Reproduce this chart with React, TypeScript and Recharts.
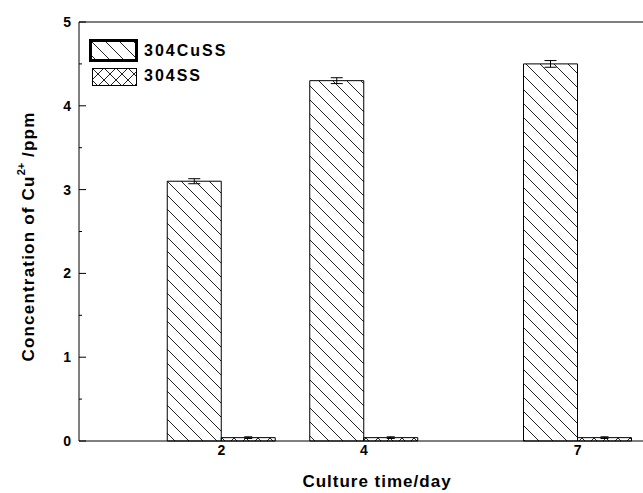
import React from "react";
import { BarChart, Bar, XAxis, YAxis, ErrorBar, ReferenceLine, Legend } from "recharts";

const days = [2, 4, 7];
const cuSS = [3.1, 4.3, 4.5];
const cuSSErr = [0.03, 0.035, 0.04];
const plainSS = [0.04, 0.04, 0.04];
const plainSSErr = [0.01, 0.01, 0.01];
const yTicks = [0, 0.5, 1, 1.5, 2, 2.5, 3, 3.5, 4, 4.5, 5];
const xTicks = [2, 4, 7];
const seriesNames = ["304CuSS", "304SS"];

const data = days.map((d, i) => ({
  day: d,
  cu: cuSS[i],
  cuErr: cuSSErr[i],
  ss: plainSS[i],
  ssErr: plainSSErr[i],
}));

const FONT = '"Liberation Sans", Arial, sans-serif';

function Patterns({ prefix }: { prefix: string }) {
  return (
    <defs>
      <pattern id={`${prefix}-diag`} patternUnits="userSpaceOnUse" width={14} height={14}>
        <path d="M0,0 L14,14 M-2,12 L2,16 M12,-2 L16,2" stroke="#222" strokeWidth={1} />
      </pattern>
      <pattern id={`${prefix}-cross`} patternUnits="userSpaceOnUse" width={12} height={12}>
        <path
          d="M0,0 L12,12 M-2,10 L2,14 M10,-2 L14,2 M12,0 L0,12 M-2,2 L2,-2 M10,14 L14,10"
          stroke="#222"
          strokeWidth={1}
        />
      </pattern>
    </defs>
  );
}

function YTick(props: any) {
  const { x, y, payload } = props;
  const v = payload.value;
  const major = Number.isInteger(v);
  return (
    <g>
      <line x1={x} x2={x + (major ? 7 : 3)} y1={y} y2={y} stroke="#000" strokeWidth={1} />
      {major && (
        <text
          x={x - 8}
          y={y}
          dy="0.35em"
          textAnchor="end"
          fontFamily={FONT}
          fontWeight="bold"
          fontSize={14}
          fill="#000"
        >
          {v}
        </text>
      )}
    </g>
  );
}

function YLabel(props: any) {
  const vb = props.viewBox || { x: 0, y: 22, width: 79, height: 419 };
  const cx = 28;
  const cy = vb.y + vb.height / 2 + 5;
  return (
    <text
      transform={`translate(${cx}, ${cy}) rotate(-90)`}
      textAnchor="middle"
      dominantBaseline="central"
      fontFamily={FONT}
      fontWeight="bold"
      fontSize={17}
      letterSpacing={1.2}
      fill="#000"
    >
      Concentration of Cu
      <tspan dy={-7} fontSize={11} letterSpacing={0}>
        2+
      </tspan>
      <tspan dy={7}> /ppm</tspan>
    </text>
  );
}

function XLabel(props: any) {
  const vb = props.viewBox || { x: 79, y: 441, width: 570, height: 52 };
  return (
    <text
      x={vb.x + vb.width / 2 + 13}
      y={vb.y + 46}
      textAnchor="middle"
      fontFamily={FONT}
      fontWeight="bold"
      fontSize={17}
      letterSpacing={1}
      fill="#000"
    >
      Culture time/day
    </text>
  );
}

function LegendBox() {
  const textStyle: React.CSSProperties = {
    position: "absolute",
    left: 55,
    fontFamily: FONT,
    fontWeight: "bold",
    fontSize: 16,
    letterSpacing: 2,
    color: "#000",
    whiteSpace: "nowrap",
  };
  return (
    <div style={{ position: "relative", width: 160, height: 50 }}>
      <svg width={49} height={23} style={{ position: "absolute", left: 0, top: 0 }}>
        <Patterns prefix="lg" />
        <rect x={1.5} y={1.5} width={46} height={20} fill="url(#lg-diag)" stroke="#000" strokeWidth={3} />
      </svg>
      <div style={{ ...textStyle, top: 0, lineHeight: "23px" }}>{seriesNames[0]}</div>
      <svg width={45} height={18} style={{ position: "absolute", left: 3, top: 29 }}>
        <rect x={0.5} y={0.5} width={44} height={17} fill="url(#lg-cross)" stroke="#000" strokeWidth={1} />
      </svg>
      <div style={{ ...textStyle, top: 28, lineHeight: "18px" }}>{seriesNames[1]}</div>
    </div>
  );
}

export default function App() {
  return (
    <div
      style={{
        position: "fixed",
        left: 0,
        top: 0,
        width: 643,
        height: 493,
        overflow: "hidden",
        background: "#fff",
      }}
    >
      <BarChart
        width={660}
        height={493}
        data={data}
        margin={{ top: 22, right: 11, bottom: 0, left: 0 }}
        barGap={0}
        barSize={54}
      >
        <Patterns prefix="ch" />
        <XAxis
          dataKey="day"
          type="number"
          domain={[0, 8]}
          ticks={xTicks}
          allowDataOverflow
          height={52}
          tickLine={false}
          tickSize={0}
          tickMargin={4}
          axisLine={{ stroke: "#000", strokeWidth: 1 }}
          tick={{ fill: "#000", fontSize: 14, fontWeight: "bold", fontFamily: FONT }}
          label={<XLabel />}
        />
        <YAxis
          type="number"
          domain={[0, 5]}
          ticks={yTicks}
          interval={0}
          width={79}
          tickLine={false}
          tickSize={0}
          tickMargin={0}
          axisLine={{ stroke: "#000", strokeWidth: 1 }}
          tick={<YTick />}
          label={<YLabel />}
        />
        <ReferenceLine y={5} stroke="#000" strokeWidth={1} />
        <Legend
          layout="vertical"
          align="center"
          verticalAlign="middle"
          content={() => <LegendBox />}
          wrapperStyle={{ position: "absolute", left: 89, top: 39, width: 160, height: 50 }}
        />
        <Bar
          dataKey="cu"
          name={seriesNames[0]}
          fill="url(#ch-diag)"
          stroke="#000"
          strokeWidth={1}
          isAnimationActive={false}
        >
          <ErrorBar dataKey="cuErr" direction="y" width={6} stroke="#000" strokeWidth={1} />
        </Bar>
        <Bar
          dataKey="ss"
          name={seriesNames[1]}
          fill="url(#ch-cross)"
          stroke="#000"
          strokeWidth={1}
          isAnimationActive={false}
        >
          <ErrorBar dataKey="ssErr" direction="y" width={4} stroke="#000" strokeWidth={1} />
        </Bar>
      </BarChart>
    </div>
  );
}
